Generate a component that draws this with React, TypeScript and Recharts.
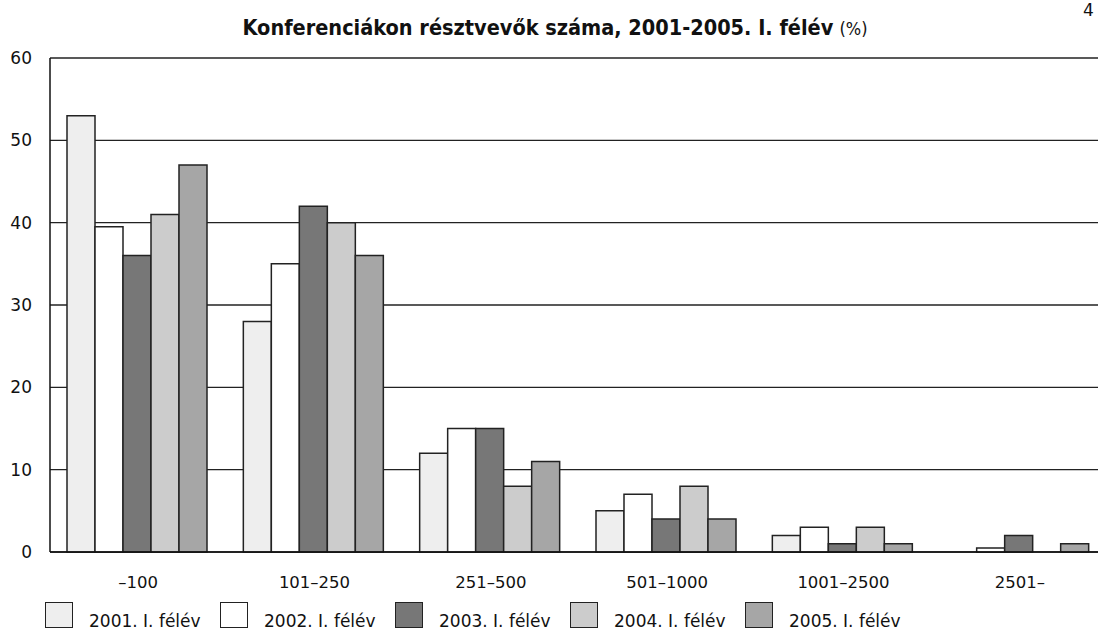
import React from 'react';
import { BarChart, Bar, XAxis, YAxis, CartesianGrid, Legend } from 'recharts';

const categories = ['–100', '101–250', '251–500', '501–1000', '1001–2500', '2501–'];
const s2001 = [53, 28, 12, 5, 2, 0];
const s2002 = [39.5, 35, 15, 7, 3, 0.5];
const s2003 = [36, 42, 15, 4, 1, 2];
const s2004 = [41, 40, 8, 8, 3, 0];
const s2005 = [47, 36, 11, 4, 1, 1];
const seriesNames = ['2001. I. félév', '2002. I. félév', '2003. I. félév', '2004. I. félév', '2005. I. félév'];
const seriesColors = ['#eeeeee', '#ffffff', '#777777', '#cccccc', '#a6a6a6'];
const yTicks = [0, 10, 20, 30, 40, 50, 60];

const data = categories.map((c, i) => ({
  cat: c,
  a: s2001[i],
  b: s2002[i],
  c: s2003[i],
  d: s2004[i],
  e: s2005[i],
}));
const keys = ['a', 'b', 'c', 'd', 'e'];

const FONT = '"DejaVu Sans", "Open Sans", sans-serif';
const TFONT = '"DejaVu Sans Condensed", "DejaVu Sans", sans-serif';

const LegendContent = () => (
  <div style={{ position: 'relative', height: 40, width: 1000 }}>
    {seriesNames.map((n, i) => (
      <div key={n} style={{ position: 'absolute', left: 45 + i * 175, top: 10 }}>
        <div
          style={{
            position: 'absolute',
            left: 0,
            top: 0,
            width: 28,
            height: 26,
            background: seriesColors[i],
            border: '1.5px solid #222',
            boxSizing: 'border-box',
          }}
        />
        <div
          style={{
            position: 'absolute',
            left: 44,
            top: 8,
            fontFamily: FONT,
            fontSize: 17,
            color: '#111',
            whiteSpace: 'nowrap',
            lineHeight: '22px',
          }}
        >
          {n}
        </div>
      </div>
    ))}
  </div>
);

export default function App() {
  return (
    <div style={{ position: 'fixed', left: 0, top: 0, width: 1098, height: 632, overflow: 'hidden', background: '#fff' }}>
      <div
        style={{
          position: 'absolute',
          left: 0,
          width: 1110,
          top: 14,
          textAlign: 'center',
          fontFamily: TFONT,
          fontSize: 21.5,
          lineHeight: '28px',
          color: '#111',
          whiteSpace: 'nowrap',
        }}
      >
        <span style={{ fontWeight: 700 }}>Konferenciákon résztvevők száma, 2001-2005. I. félév</span>{' '}
        <span style={{ fontSize: 18 }}>(%)</span>
      </div>
      <div style={{ position: 'absolute', left: 1083, top: 0, fontFamily: FONT, fontSize: 17, lineHeight: '20px', color: '#111' }}>4</div>
      <div style={{ position: 'absolute', left: 0, top: 0 }}>
        <BarChart
          width={1108}
          height={632}
          data={data}
          margin={{ top: 58, right: 0, bottom: 0, left: 0 }}
          barCategoryGap={17}
          barGap={0}
        >
          <CartesianGrid horizontal vertical={false} stroke="#222" strokeWidth={1.4} />
          <XAxis
            dataKey="cat"
            height={40}
            tickLine={false}
            tickSize={0}
            tickMargin={24}
            axisLine={{ stroke: '#111', strokeWidth: 1.5 }}
            tick={{ fontFamily: FONT, fontSize: 16.5, fill: '#111' }}
          />
          <YAxis
            width={50}
            domain={[0, 60]}
            ticks={yTicks}
            tickLine={false}
            tickSize={0}
            tickMargin={18}
            axisLine={{ stroke: '#111', strokeWidth: 1.5 }}
            tick={{ fontFamily: FONT, fontSize: 17, fill: '#111' }}
          />
          <Legend verticalAlign="bottom" height={40} content={<LegendContent />} />
          {keys.map((k, i) => (
            <Bar
              key={k}
              dataKey={k}
              name={seriesNames[i]}
              fill={seriesColors[i]}
              stroke="#222"
              strokeWidth={1.5}
              isAnimationActive={false}
            />
          ))}
        </BarChart>
      </div>
    </div>
  );
}
